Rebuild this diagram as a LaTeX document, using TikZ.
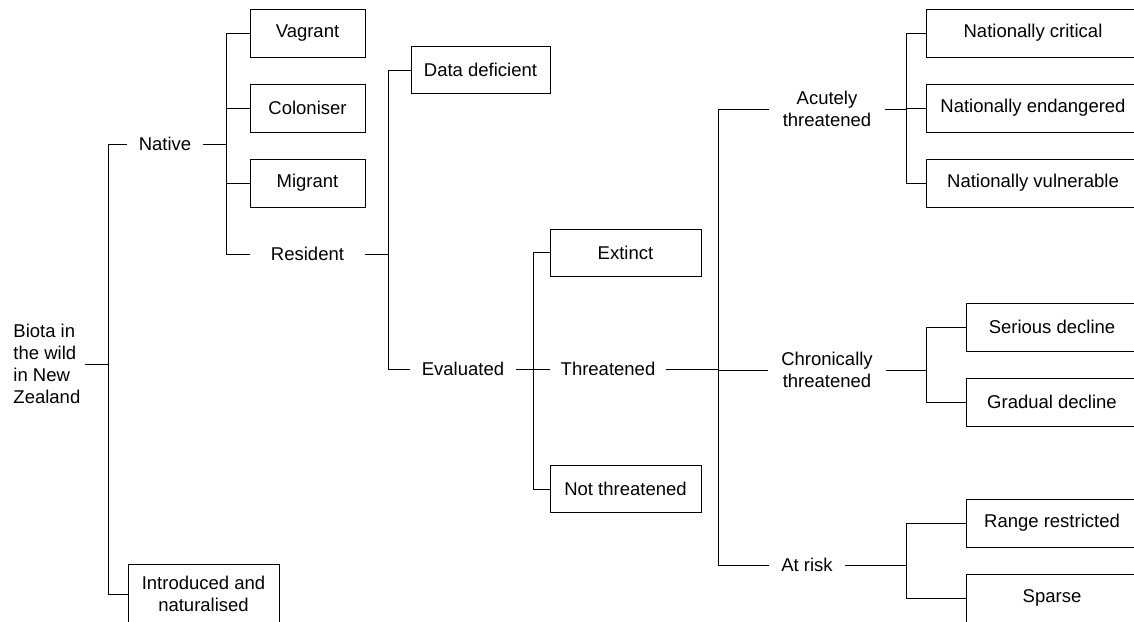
\documentclass[tikz,border=0pt]{standalone}
\usepackage{fontspec}
\setmainfont{Liberation Sans}
\usetikzlibrary{positioning}

\begin{document}
\begin{tikzpicture}[x=1pt,y=-1pt,line width=0.9pt,font=\fontsize{18.5}{22}\selectfont,
  box/.style={draw,minimum height=48,inner sep=0,align=center},
  lbl/.style={inner xsep=11,inner ysep=0,align=center}]

\useasboundingbox (0,0) rectangle (1134,621);
\clip (0,0) rectangle (1134,621);

\node[lbl,align=left,inner xsep=4,anchor=west](bio) at (9,364){Biota in\\the wild\\in New\\Zealand};
\node[lbl](nat) at (165,144){Native};
\node[box,minimum width=151,minimum height=60](intr) at (203.5,594){Introduced and\\naturalised};
\node[box,minimum width=115](vag) at (307.5,33){Vagrant};
\node[box,minimum width=115](col) at (307.5,108){Coloniser};
\node[box,minimum width=115](mig) at (307.5,183){Migrant};
\node[lbl,minimum width=115,inner xsep=0](res) at (307.5,254){Resident};
\node[box,minimum width=139,minimum height=47](dd) at (480.5,70){Data deficient};
\node[lbl](eva) at (463,369){Evaluated};
\node[box,minimum width=151,minimum height=47](ext) at (625.5,252.5){Extinct};
\node[lbl,inner xsep=10](thr) at (608,369){Threatened};
\node[box,minimum width=151,minimum height=47](nthr) at (625.5,489){Not threatened};
\node[lbl,inner xsep=13](acu) at (827,109){Acutely\\threatened};
\node[lbl,inner xsep=13](chr) at (827,370){Chronically\\threatened};
\node[lbl,inner xsep=12](risk) at (807,565){At risk};
\node[box,minimum width=214](ncr) at (1033,33){Nationally critical};
\node[box,minimum width=214](nen) at (1033,108){Nationally endangered};
\node[box,minimum width=214](nvu) at (1033,183){Nationally vulnerable};
\node[box,minimum width=171](ser) at (1052,327){Serious decline};
\node[box,minimum width=171](gra) at (1052,402){Gradual decline};
\node[box,minimum width=171](ran) at (1052,523){Range restricted};
\node[box,minimum width=171](spa) at (1052,598){Sparse};

\coordinate(jbio) at (108,364);
\coordinate(jnat) at (226,144);
\coordinate(jres) at (388,254);
\coordinate(jeva) at (533,369);
\coordinate(jthr) at (718,369);
\coordinate(jacu) at (906,109);
\coordinate(jchr) at (926,370);
\coordinate(jrisk) at (906,565);

\draw (bio.east)--(jbio) (jbio)|-(nat.west) (jbio)|-(intr.west);
\draw (nat.east)--(jnat) (jnat)|-(vag.west) (jnat)|-(col.west)
  (jnat)|-(mig.west) (jnat)|-(res.west);
\draw (res.east)--(jres) (jres)|-(dd.west) (jres)|-(eva.west);
\draw (eva.east)--(jeva) (jeva)|-(ext.west) (jeva)|-(nthr.west) (jeva)--(thr.west);
\draw (thr.east)--(jthr) (jthr)|-(acu.west) (jthr)|-(chr.west) (jthr)|-(risk.west);
\draw (acu.east)--(jacu) (jacu)|-(ncr.west) (jacu)|-(nen.west) (jacu)|-(nvu.west);
\draw (chr.east)--(jchr) (jchr)|-(ser.west) (jchr)|-(gra.west);
\draw (risk.east)--(jrisk) (jrisk)|-(ran.west) (jrisk)|-(spa.west);

\end{tikzpicture}
\end{document}
